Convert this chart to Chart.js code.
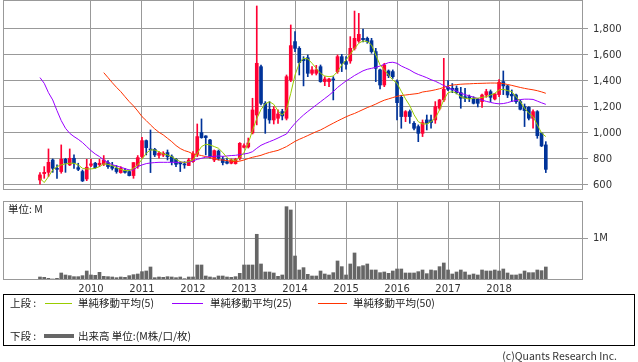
<!DOCTYPE html>
<html><head><meta charset="utf-8">
<script src="https://cdn.jsdelivr.net/npm/chart.js@4.4.0/dist/chart.umd.min.js"></script>
<style>
html,body{margin:0;padding:0;background:#fff;}
body{width:638px;height:362px;overflow:hidden;position:relative;}
canvas{position:absolute;left:0;}
#c1{top:0;}
#c2{top:196px;}
.t{position:absolute;font-family:"Noto Sans CJK JP","DejaVu Sans",sans-serif;font-size:10.5px;color:#222;white-space:nowrap;height:14px;line-height:14px;}
#legend{position:absolute;left:3px;top:294px;width:632px;height:52px;border:1px solid #000;box-sizing:border-box;}
.ln{position:absolute;}
</style></head>
<body>
<canvas id="c1" width="638" height="196"></canvas>
<canvas id="c2" width="638" height="100"></canvas>
<div class="t" style="left:8px;top:202px;">単位: M</div>
<div id="legend"></div>
<div class="t" style="left:10px;top:296px;">上段 :</div>
<div class="ln" style="left:45px;top:303px;width:27px;height:1px;background:#99cc00;"></div>
<div class="t" style="left:78px;top:296px;">単純移動平均(5)</div>
<div class="ln" style="left:172px;top:303px;width:31px;height:1px;background:#9900ff;"></div>
<div class="t" style="left:210px;top:296px;">単純移動平均(25)</div>
<div class="ln" style="left:318px;top:303px;width:29px;height:1px;background:#ff3300;"></div>
<div class="t" style="left:353px;top:296px;">単純移動平均(50)</div>
<div class="t" style="left:10px;top:329px;">下段 :</div>
<div class="ln" style="left:44px;top:334px;width:30px;height:4px;background:#666;"></div>
<div class="t" style="left:78px;top:329px;">出来高 単位:(M株/口/枚)</div>
<div class="t" style="right:21px;top:349px;color:#333;">(c)Quants Research Inc.</div>
<script>
// ---- data (monthly, Jan 2009 .. Dec 2018) ----
const startYear = 2009;
const open = [638,687,697,792,728,703,797,754,805,733, 703,646,751,767,756,759,772,749,728,695, 710,703,672,746,818,941,874,874,828,830, 849,818,797,767,762,749,779,838,1003,977, 946,792,860,797,779,767,764,805,889,892, 1000,1138,1510,1228,1182,1100,1113,1164,1113,1408, 1703,1651,1567,1579,1459,1459,1510,1395,1395,1415, 1472,1587,1549,1554,1651,1708,1728,1728,1710,1626, 1485,1369,1477,1472,1395,1274,1126,1164,1074,1049, 997,1100,1100,1100,1190,1254,1351,1344,1344,1310, 1279,1279,1267,1259,1241,1292,1318,1261,1295,1395, 1362,1297,1292,1241,1203,1197,1113,1164,997,908];
const high = [695,741,877,800,754,908,805,877,831,767, 715,797,797,774,797,826,787,774,749,741, 728,715,772,826,967,946,1023,882,856,856, 869,831,805,779,779,805,856,1069,1108,979, 951,869,869,818,805,800,805,926,917,961, 1267,1977,1523,1241,1241,1203,1177,1182,1446,1831, 1780,1664,1587,1600,1510,1520,1523,1433,1420,1433, 1600,1605,1587,1741,1938,1920,1800,1738,1728,1651, 1492,1536,1485,1485,1408,1290,1172,1177,1087,1062, 1100,1138,1138,1241,1259,1574,1403,1380,1362,1351, 1344,1292,1279,1267,1300,1336,1331,1305,1410,1477, 1369,1331,1300,1254,1223,1203,1177,1172,1003,933];
const low = [605,651,664,697,651,690,697,749,728,710, 626,633,741,728,741,749,728,715,690,690, 690,669,651,728,805,831,695,818,805,818, 792,754,741,703,728,749,774,818,959,831, 805,779,792,754,762,762,760,792,884,884, 992,1062,1215,997,1074,1069,1074,1100,1100,1395, 1626,1446,1362,1433,1446,1446,1390,1364,1356,1254, 1459,1472,1490,1536,1638,1697,1700,1690,1613,1395, 1338,1356,1425,1420,1100,1036,1087,1074,1023,933, 972,1023,1036,1074,1177,1241,1326,1310,1300,1190, 1241,1241,1223,1200,1197,1274,1241,1254,1279,1295, 1272,1241,1228,1177,1049,1100,1036,959,895,695];
const close = [677,697,774,728,720,797,767,805,767,720, 631,736,762,733,767,792,741,728,703,728, 697,672,772,810,941,887,869,831,844,844, 818,779,759,762,754,792,838,972,964,964, 818,864,805,772,767,792,797,920,902,923, 1177,1536,1228,1113,1100,1182,1146,1131,1433,1672, 1651,1541,1556,1459,1485,1485,1395,1415,1415,1408, 1587,1536,1528,1651,1728,1759,1718,1703,1626,1497, 1369,1523,1441,1433,1233,1126,1164,1126,1036,997, 1080,1074,1080,1203,1254,1336,1336,1331,1310,1267, 1267,1267,1228,1228,1292,1318,1274,1300,1390,1362, 1292,1285,1241,1182,1172,1113,1164,979,900,720];
const ma5 = [651,618,664,715,741,754,762,767,767,754, 728,723,723,728,741,762,759,749,733,720, 710,710,728,754,797,844,869,869,856,838, 831,818,797,779,772,779,792,844,895,913, 908,895,882,850,810,792,790,810,850,920, 1020,1110,1180,1225,1240,1220,1170,1138,1180,1305, 1446,1536,1574,1570,1536,1497,1459,1438,1433,1438, 1472,1523,1562,1605,1651,1690,1708,1703,1677,1600, 1523,1485,1446,1408,1382,1320,1262,1210,1140,1087, 1069,1069,1087,1113,1177,1254,1310,1318,1305,1279, 1267,1261,1267,1267,1274,1279,1292,1305,1331,1336, 1326,1318,1279,1241,1190,1151,1126,1062,1000,972];
const ma25 = [1426,1382,1310,1254,1172,1095,1036,997,972,951, 926,895,864,838,818,792,772,756,746,736, 726,715,715,741,754,764,769,772,774,774, 774,774,774,774,774,774,785,797,805,813, 818,820,823,820,823,826,828,833,838,844, 856,882,905,920,933,946,961,977,992,1036, 1074,1108,1138,1165,1190,1215,1240,1265,1290,1318, 1350,1375,1400,1420,1442,1460,1478,1490,1497,1505, 1515,1528,1541,1544,1536,1515,1500,1485,1465,1450, 1438,1425,1410,1398,1382,1365,1350,1336,1322,1305, 1295,1285,1275,1265,1252,1243,1235,1228,1224,1226, 1233,1243,1250,1257,1260,1260,1258,1245,1232,1220];
const ma50 = [null,null,null,null,null,null,null,null,null,null, null,null,null,null,null,1464,1426,1387,1351,1318, 1279,1241,1208,1169,1126,1095,1062,1031,1005,985, 959,933,903,880,864,854,838,833,826,818, 810,803,792,792,787,781,779,783,792,803, 813,820,828,840,850,858,866,880,895,915, 935,951,965,980,995,1010,1023,1040,1058,1075, 1092,1108,1124,1138,1150,1165,1180,1195,1208,1222, 1238,1252,1262,1272,1282,1288,1292,1296,1300,1304, 1315,1320,1325,1332,1340,1350,1362,1368,1372,1375, 1377,1378,1380,1381,1382,1383,1384,1384,1383,1380, 1373,1366,1358,1350,1343,1337,1332,1325,1316,1305];
const volume = [0.072,0.064,0.040,0.024,0.040,0.168,0.120,0.104,0.080,0.080, 0.104,0.216,0.120,0.112,0.184,0.088,0.080,0.072,0.056,0.072, 0.064,0.104,0.128,0.144,0.200,0.216,0.312,0.056,0.072,0.064, 0.080,0.072,0.056,0.072,0.032,0.072,0.072,0.360,0.360,0.096, 0.072,0.056,0.096,0.096,0.072,0.064,0.080,0.160,0.360,0.360, 0.360,1.096,0.384,0.192,0.192,0.168,0.088,0.120,1.758,1.679, 0.575,0.240,0.296,0.136,0.096,0.096,0.216,0.144,0.120,0.176, 0.456,0.320,0.120,0.384,0.648,0.320,0.344,0.384,0.240,0.240, 0.176,0.192,0.160,0.216,0.264,0.264,0.168,0.168,0.168,0.200, 0.240,0.152,0.240,0.224,0.320,0.408,0.240,0.144,0.192,0.240, 0.192,0.120,0.144,0.120,0.240,0.216,0.216,0.240,0.216,0.264, 0.168,0.120,0.120,0.144,0.216,0.176,0.176,0.240,0.224,0.312];
const yearLabels = ['2010','2011','2012','2013','2014','2015','2016','2017','2018'];
const priceTicks = [600,800,1000,1200,1400,1600,1800];
const volTicks = [1];

// ---- categories ----
const months = close.map((_, i) => (startYear + Math.floor(i / 12)) + '/' + String(i % 12 + 1).padStart(2, '0'));
const yearIdx = yearLabels.map(y => months.indexOf(y + '/01'));

const UP = '#ff0033', DOWN = '#003399', GRID = '#999999';
const colors = close.map((c, i) => c >= open[i] ? UP : DOWN);
const X_MIN = -8.7, X_MAX = 127.75;

const boxPlugin = {
  id: 'box',
  afterDraw(chart) {
    const {ctx, chartArea: a} = chart;
    ctx.save();
    ctx.strokeStyle = GRID; ctx.lineWidth = 1;
    ctx.strokeRect(Math.round(a.left) + 0.5, Math.round(a.top) + 0.5,
      Math.round(a.right) - Math.round(a.left) - 1, Math.round(a.bottom) - Math.round(a.top) - 1);
    ctx.restore();
  }
};

function xScale(showLabels) {
  return {
    type: 'linear', min: X_MIN, max: X_MAX, offset: false,
    grid: {color: GRID, drawTicks: false, offset: false},
    border: {display: false},
    ticks: {
      display: showLabels, autoSkip: false, maxRotation: 0, padding: 3,
      color: '#333', font: {family: 'DejaVu Sans', size: 10},
      callback: v => { const k = yearIdx.indexOf(v); return k >= 0 ? yearLabels[k] : ''; }
    },
    afterBuildTicks: s => { s.ticks = yearIdx.map(v => ({value: v})); },
    afterFit: s => { s.height = showLabels ? 16 : 6; s.paddingLeft = 0; s.paddingRight = 0; }
  };
}

Chart.defaults.animation = false;

new Chart(document.getElementById('c1'), {
  type: 'bar',
  data: {
    datasets: [
      {type: 'line', label: 'MA5', data: ma5.map((v, i) => ({x: i, y: v})), borderColor: '#99cc00', borderWidth: 1, pointRadius: 0, tension: 0, order: 0},
      {type: 'line', label: 'MA25', data: ma25.map((v, i) => ({x: i, y: v})), borderColor: '#9900ff', borderWidth: 1, pointRadius: 0, tension: 0, order: 0},
      {type: 'line', label: 'MA50', data: ma50.map((v, i) => ({x: i, y: v})), borderColor: '#ff3300', borderWidth: 1, pointRadius: 0, tension: 0, order: 0},
      {label: 'body', data: open.map((o, i) => ({x: i, y: [o, close[i]]})), backgroundColor: colors, barThickness: 3, minBarLength: 1, grouped: false, order: 1},
      {label: 'wick', data: low.map((l, i) => ({x: i, y: [l, high[i]]})), backgroundColor: colors, barThickness: 1, grouped: false, order: 2}
    ]
  },
  options: {
    responsive: false, devicePixelRatio: 1, animation: false, events: [],
    layout: {padding: {left: 3, top: 0, right: 0, bottom: 0}},
    plugins: {legend: {display: false}, tooltip: {enabled: false}},
    scales: {
      x: xScale(false),
      y: {
        position: 'right', min: 561, max: 2023,
        grid: {color: GRID, tickLength: 5, drawTicks: true},
        border: {display: false},
        ticks: {color: '#333', padding: 5, font: {family: 'DejaVu Sans', size: 10},
          callback: v => Number(v).toLocaleString('en-US')},
        afterBuildTicks: s => { s.ticks = priceTicks.map(v => ({value: v})); },
        afterFit: s => { s.width = 55; s.paddingTop = 0; s.paddingBottom = 0; }
      }
    }
  },
  plugins: [boxPlugin]
});

new Chart(document.getElementById('c2'), {
  type: 'bar',
  data: {
    datasets: [
      {label: '出来高', data: volume.map((v, i) => ({x: i, y: v})), backgroundColor: '#666666', barThickness: 3, grouped: false}
    ]
  },
  options: {
    responsive: false, devicePixelRatio: 1, animation: false, events: [],
    layout: {padding: {left: 3, top: 5, right: 0, bottom: 0}},
    plugins: {legend: {display: false}, tooltip: {enabled: false}},
    scales: {
      x: xScale(true),
      y: {
        position: 'right', min: 0, max: 1.894,
        grid: {color: GRID, tickLength: 5, drawTicks: true},
        border: {display: false},
        ticks: {color: '#333', padding: 5, font: {family: 'DejaVu Sans', size: 10}, callback: v => v + 'M'},
        afterBuildTicks: s => { s.ticks = volTicks.map(v => ({value: v})); },
        afterFit: s => { s.width = 55; s.paddingTop = 0; s.paddingBottom = 0; }
      }
    }
  },
  plugins: [boxPlugin]
});
</script>
</body></html>
